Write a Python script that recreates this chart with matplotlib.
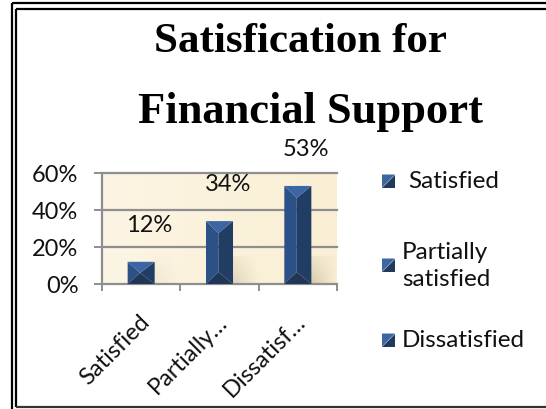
import numpy as np
import matplotlib
matplotlib.use("Agg")
import matplotlib.pyplot as plt
import matplotlib.transforms as mtransforms
from matplotlib.patches import Polygon
from matplotlib.lines import Line2D

# données
categories = ["Satisfied", "Partially satisfied", "Dissatisfied"]
tick_labels = ["Satisfied", "Partially…", "Dissatisf…"]
legend_labels = ["Satisfied", "Partially\nsatisfied", "Dissatisfied"]
values = [0.12, 0.34, 0.53]
y_ticks = [0.0, 0.2, 0.4, 0.6]
y_tick_labels = ["0%", "20%", "40%", "60%"]
title_lines = ["Satisfication for", "Financial Support"]

W, H = 546, 410
FONT = "Lato"

def fx(px):
    return px / W

def fy(py):
    return 1 - py / H

fig = plt.figure(figsize=(W / 100, H / 100), dpi=100)
fig.patch.set_facecolor("white")

ax = fig.add_axes([fx(102), fy(285), fx(337) - fx(102), fy(174) - fy(285)])
ax.set_facecolor("#FBF2DC")

# fond crème légèrement dégradé
grad = np.linspace(0, 1, 200).reshape(1, -1)
grad = np.vstack([grad] * 2)
ax.imshow(grad, extent=[-0.5, 2.5, 0, 0.6], aspect="auto", zorder=0,
          cmap=matplotlib.colors.LinearSegmentedColormap.from_list("c", ["#FCF5E4", "#FAEFD4"]))

w = 0.345
x = np.arange(len(values))

# ombres floues derrière les colonnes
for i, v in enumerate(values):
    sh = np.linspace(0.55, 0.0, 50).reshape(1, -1) * np.linspace(0.3, 1, 20).reshape(-1, 1)
    rgba = np.zeros((20, 50, 4))
    rgba[..., 0] = 0.72
    rgba[..., 1] = 0.66
    rgba[..., 2] = 0.55
    rgba[..., 3] = sh * min(1.0, v * 2.2)
    ax.imshow(rgba, extent=[x[i] + w / 2, x[i] + w / 2 + 0.33, 0, 0.15],
              aspect="auto", zorder=1, interpolation="bilinear")

# colonnes avec relief
for i, v in enumerate(values):
    x0, x1 = x[i] - w / 2, x[i] + w / 2
    xm = x0 + 0.46 * w
    d = min(0.065, v / 2)
    ax.add_patch(Polygon([(x0, 0), (x0, v), (xm, v - d), (xm, d)], closed=True,
                         facecolor="#2C5187", edgecolor="none", zorder=3))
    ax.add_patch(Polygon([(xm, d), (xm, v - d), (x1, v), (x1, 0)], closed=True,
                         facecolor="#223D63", edgecolor="none", zorder=3))
    ax.add_patch(Polygon([(x0, v), (x1, v), (xm, v - d)], closed=True,
                         facecolor="#3B66A3", edgecolor="none", zorder=3))
    ax.add_patch(Polygon([(x0, 0), (x1, 0), (xm, d)], closed=True,
                         facecolor="#1F3656", edgecolor="none", zorder=3))
    ax.annotate(f"{round(v * 100)}%", (x[i], v), xytext=(6, 27), textcoords="offset points",
                ha="center", va="center", fontsize=17, family=FONT, color="#111111", zorder=5)

ax.set_xlim(-0.5, 2.5)
ax.set_ylim(0, 0.6)

for t in y_ticks[1:]:
    ax.axhline(t, color="#8E8E8E", lw=1.6, zorder=2, clip_on=False)

for s in ["top", "right"]:
    ax.spines[s].set_visible(False)
for s in ["left", "bottom"]:
    ax.spines[s].set_color("#8E8E8E")
    ax.spines[s].set_linewidth(1.6)

ax.set_yticks(y_ticks)
ax.set_yticklabels(y_tick_labels, fontsize=17, family=FONT, color="#111111")
ax.tick_params(axis="y", length=6, width=1.4, color="#8E8E8E", pad=11)

ax.set_xticks(x)
ax.set_xticklabels(tick_labels, rotation=45, ha="right", rotation_mode="anchor",
                   fontsize=17, family=FONT, color="#111111")
ax.tick_params(axis="x", which="major", length=0, pad=19)
ax.set_xticks([-0.5, 0.5, 1.5, 2.5], minor=True)
ax.tick_params(axis="x", which="minor", length=5, width=1.4, color="#8E8E8E")
shift = mtransforms.ScaledTranslation(-2 / 72, 0, fig.dpi_scale_trans)
for lab in ax.get_xticklabels():
    lab.set_transform(lab.get_transform() + shift)

# titre
fig.text(fx(300), fy(52), title_lines[0], ha="center", va="baseline",
         fontsize=31, fontweight="bold", family="Liberation Serif")
fig.text(fx(311), fy(123), title_lines[1], ha="center", va="baseline",
         fontsize=32, fontweight="bold", family="Liberation Serif")

# légende
leg_y = [182, 266, 341]
leg_text_x = [408, 402, 402]
for py, tx, lab in zip(leg_y, leg_text_x, legend_labels):
    a, b = 382, 395
    t0, t1 = py - 6.5, py + 6.5
    fig.patches.append(Polygon([(fx(a), fy(t0)), (fx(b), fy(t0)), (fx(a), fy(t1))], closed=True,
                               transform=fig.transFigure, facecolor="#3B66A3", edgecolor="none"))
    fig.patches.append(Polygon([(fx(b), fy(t0)), (fx(b), fy(t1)), (fx(a), fy(t1))], closed=True,
                               transform=fig.transFigure, facecolor="#203A5E", edgecolor="none"))
    fig.text(fx(tx), fy(py), lab, ha="left", va="center", fontsize=17.5, family=FONT,
             color="#111111", linespacing=1.3)

# cadre double
def fline(x0, y0, x1, y1, lw, color="black"):
    fig.lines.append(Line2D([fx(x0), fx(x1)], [fy(y0), fy(y1)], transform=fig.transFigure,
                            color=color, lw=lw, solid_capstyle="butt"))

fline(11.5, 4.3, W, 4.3, 1.6)
fline(11.5, 4.3, 11.5, H, 1.6)
fline(16, 10, W, 10, 1.6)
fline(16, 10, 16, 408, 1.6)
fline(16, 408, W, 408, 1.6, "#333333")

fig.savefig("out.png", dpi=100)
